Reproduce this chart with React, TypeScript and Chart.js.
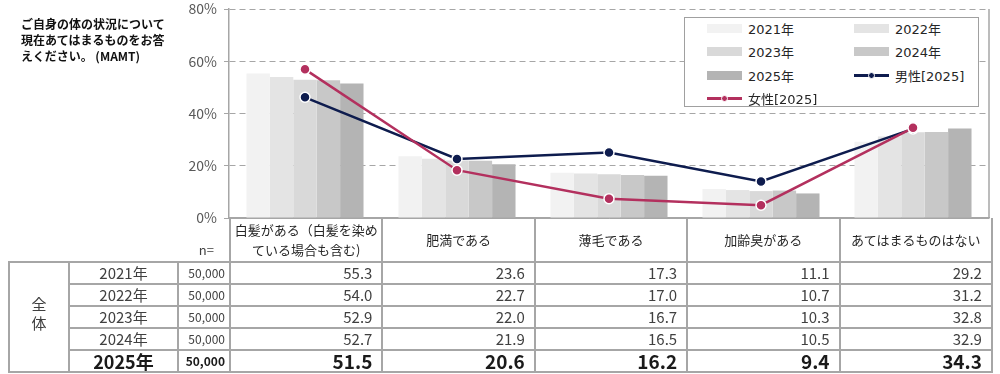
import React, { useEffect, useRef } from "react";
import { Chart, registerables } from "chart.js";
Chart.register(...registerables);

// ---- data ----
const categoryLines: string[][] = [
  ["白髪がある（白髪を染め", "ている場合も含む)"],
  ["肥満である"],
  ["薄毛である"],
  ["加齢臭がある"],
  ["あてはまるものはない"],
];
const categories = categoryLines.map((l) => l.join(""));
const years = ["2021年", "2022年", "2023年", "2024年", "2025年"];
const sampleSizes = ["50,000", "50,000", "50,000", "50,000", "50,000"];
const values2021 = [55.3, 23.6, 17.3, 11.1, 29.2];
const values2022 = [54.0, 22.7, 17.0, 10.7, 31.2];
const values2023 = [52.9, 22.0, 16.7, 10.3, 32.8];
const values2024 = [52.7, 21.9, 16.5, 10.5, 32.9];
const values2025 = [51.5, 20.6, 16.2, 9.4, 34.3];
const male2025 = [46.2, 22.6, 25.1, 14.0, 34.1];
const female2025 = [56.9, 18.3, 7.4, 4.9, 34.5];
const yMin = 0;
const yMax = 80;
const yStep = 20;

const yearValues = [values2021, values2022, values2023, values2024, values2025];
const barColors = ["#f2f2f2", "#e4e4e4", "#d9d9d9", "#c8c8c8", "#b4b4b4"];
const maleLabel = "男性[2025]";
const femaleLabel = "女性[2025]";
const maleColor = "#0e1c4e";
const femaleColor = "#b3305e";

const JP = '"Noto Sans CJK JP", "Noto Sans", sans-serif';
const LEG = '"DejaVu Sans", "Noto Sans CJK JP", sans-serif';
const gridGray = "#a6a6a6";

const rightBorder = {
  id: "rightBorder",
  afterDraw(chart: any) {
    const { ctx, chartArea } = chart;
    ctx.save();
    ctx.strokeStyle = gridGray;
    ctx.lineWidth = 1.5;
    ctx.beginPath();
    ctx.moveTo(chartArea.right, chartArea.top);
    ctx.lineTo(chartArea.right, chartArea.bottom);
    ctx.stroke();
    ctx.restore();
  },
};

export default function App() {
  const canvasRef = useRef<HTMLCanvasElement>(null);
  useEffect(() => {
    const el = canvasRef.current;
    if (!el) return;
    const chart = new Chart(el, {
      type: "bar",
      data: {
        labels: categories,
        datasets: [
          {
            type: "line",
            label: femaleLabel,
            data: female2025,
            borderColor: femaleColor,
            backgroundColor: femaleColor,
            borderWidth: 2.5,
            pointRadius: 5,
            pointBackgroundColor: femaleColor,
            pointBorderColor: "#ffffff",
            pointBorderWidth: 1.5,
            order: 0,
          } as any,
          {
            type: "line",
            label: maleLabel,
            data: male2025,
            borderColor: maleColor,
            backgroundColor: maleColor,
            borderWidth: 2.5,
            pointRadius: 5,
            pointBackgroundColor: maleColor,
            pointBorderColor: "#ffffff",
            pointBorderWidth: 1.5,
            order: 1,
          } as any,
          ...years.map((y, i) => ({
            type: "bar",
            label: y,
            data: yearValues[i],
            backgroundColor: barColors[i],
            borderWidth: 0,
            categoryPercentage: 0.77,
            barPercentage: 1.0,
            order: 2,
          })),
        ] as any,
      },
      options: {
        animation: false,
        responsive: true,
        maintainAspectRatio: false,
        layout: { padding: { left: 0, right: 11, top: 9, bottom: 10 } },
        plugins: { legend: { display: false }, tooltip: { enabled: false } },
        scales: {
          x: {
            offset: true,
            ticks: { display: false },
            grid: { display: false },
            border: { display: true, color: gridGray, width: 1.5 },
            afterFit: (s: any) => {
              s.height = 0;
              s.paddingLeft = 0;
              s.paddingRight = 0;
              s.paddingTop = 0;
              s.paddingBottom = 0;
            },
          },
          y: {
            min: yMin,
            max: yMax,
            ticks: {
              stepSize: yStep,
              callback: (v: any) => v + "%",
              font: { family: JP, size: 14 },
              color: "#595959",
              padding: 7,
            },
            grid: {
              color: gridGray,
              lineWidth: 1,
              drawTicks: true,
              tickLength: 5,
              tickColor: gridGray,
            },
            border: {
              display: true,
              color: gridGray,
              width: 1.5,
              dash: (ctx: any) => (ctx.tick && ctx.tick.value === 0 ? [] : [6, 4]),
            },
            afterFit: (s: any) => {
              s.width = 229;
              s.paddingTop = 0;
              s.paddingBottom = 0;
            },
          },
        },
      },
      plugins: [rightBorder],
    });
    return () => chart.destroy();
  }, []);

  const legendItems = [
    ...years.map((y, i) => ({ label: y, kind: "bar", color: barColors[i] })),
    { label: maleLabel, kind: "line", color: maleColor },
    { label: femaleLabel, kind: "line", color: femaleColor },
  ];

  const border = `2px solid ${gridGray}`;
  const colW = [60, 109, 52, 152.4, 152.4, 152.4, 152.4, 152.4];
  const rowH = 22;

  return (
    <div
      style={{
        position: "absolute",
        left: 0,
        top: 0,
        width: 1000,
        height: 374,
        overflow: "hidden",
        background: "#ffffff",
        fontFamily: JP,
      }}
    >
      <div style={{ position: "absolute", left: 0, top: 0, width: 1000, height: 228 }}>
        <canvas ref={canvasRef} />
      </div>

      <div
        style={{
          position: "absolute",
          left: 21,
          top: 16,
          fontSize: 12,
          lineHeight: "16px",
          fontWeight: 700,
          color: "#111",
          whiteSpace: "pre",
        }}
      >
        {"ご自身の体の状況について\n現在あてはまるものをお答\nえください。 (MAMT)"}
      </div>

      {/* legend */}
      <div
        style={{
          position: "absolute",
          left: 684,
          top: 17,
          width: 293,
          height: 88,
          border: "1.5px solid #a0a0a0",
          background: "#ffffff",
          fontFamily: LEG,
          fontSize: 13,
          color: "#262626",
        }}
      >
        {legendItems.map((it, i) => (
          <div
            key={it.label}
            style={{
              position: "absolute",
              left: 22 + (i % 2) * 147,
              top: -1 + Math.floor(i / 2) * 23.3,
              height: 23,
              display: "flex",
              alignItems: "center",
              whiteSpace: "nowrap",
            }}
          >
            {it.kind === "bar" ? (
              <div style={{ width: 35, height: 9, background: it.color, marginRight: 6 }} />
            ) : (
              <div style={{ position: "relative", width: 35, height: 9, marginRight: 6 }}>
                <div
                  style={{
                    position: "absolute",
                    left: 0,
                    top: 3,
                    width: 35,
                    height: 3,
                    background: it.color,
                  }}
                />
                <div
                  style={{
                    position: "absolute",
                    left: 14,
                    top: 1,
                    width: 7,
                    height: 7,
                    borderRadius: 4,
                    background: it.color,
                    boxSizing: "border-box",
                    border: "1px solid #fff",
                  }}
                />
              </div>
            )}
            <span>{it.label}</span>
          </div>
        ))}
      </div>

      {/* table */}
      <table
        style={{
          position: "absolute",
          left: 8,
          top: 218,
          borderCollapse: "collapse",
          tableLayout: "fixed",
          width: colW.reduce((a, b) => a + b, 0),
          color: "#404040",
          fontFamily: JP,
        }}
      >
        <colgroup>
          {colW.map((w, i) => (
            <col key={i} style={{ width: w }} />
          ))}
        </colgroup>
        <tbody>
          <tr style={{ height: 44 }}>
            <td style={{ padding: 0 }} />
            <td style={{ padding: 0 }} />
            <td
              style={{
                padding: "0 15px 2px 0",
                textAlign: "right",
                verticalAlign: "bottom",
                fontSize: 13,
                color: "#404040",
              }}
            >
              n=
            </td>
            {categoryLines.map((lines, i) => (
              <td
                key={i}
                style={{
                  borderLeft: border,
                  borderRight: border,
                  padding: 0,
                  textAlign: "center",
                  verticalAlign: "middle",
                  fontSize: 13,
                  lineHeight: "20px",
                  color: "#262626",
                }}
              >
                {lines.map((l, k) => (
                  <div key={k}>{l}</div>
                ))}
              </td>
            ))}
          </tr>
          {years.map((y, r) => {
            const bold = r === years.length - 1;
            return (
              <tr key={y} style={{ height: rowH }}>
                {r === 0 && (
                  <td
                    rowSpan={years.length}
                    style={{
                      border,
                      textAlign: "center",
                      fontSize: 15,
                      lineHeight: "19px",
                      padding: "0 0 8px 0",
                    }}
                  >
                    全<br />体
                  </td>
                )}
                <td
                  style={{
                    border,
                    textAlign: "center",
                    fontSize: bold ? 18 : 15,
                    fontWeight: bold ? 700 : 400,
                    color: bold ? "#1a1a1a" : "#404040",
                    padding: 0,
                    lineHeight: "18px",
                  }}
                >
                  {y}
                </td>
                <td
                  style={{
                    border,
                    textAlign: "right",
                    fontSize: 12,
                    fontWeight: bold ? 700 : 400,
                    color: bold ? "#1a1a1a" : "#404040",
                    padding: "0 4px 0 0",
                    lineHeight: "18px",
                  }}
                >
                  {sampleSizes[r]}
                </td>
                {yearValues[r].map((v, c) => (
                  <td
                    key={c}
                    style={{
                      border,
                      textAlign: "right",
                      fontSize: bold ? 19 : 15,
                      fontWeight: bold ? 700 : 400,
                      color: bold ? "#1a1a1a" : "#404040",
                      padding: "0 9px 0 0",
                      lineHeight: "18px",
                    }}
                  >
                    {v.toFixed(1)}
                  </td>
                ))}
              </tr>
            );
          })}
        </tbody>
      </table>
    </div>
  );
}
